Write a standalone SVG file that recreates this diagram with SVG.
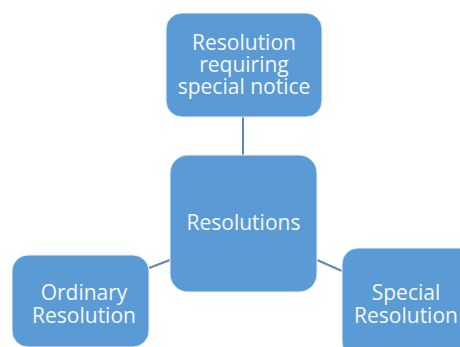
<svg xmlns="http://www.w3.org/2000/svg" width="460" height="347" viewBox="0 0 460 347">
<style>
.box{fill:#5B9BD5;stroke:#EAF1FA;stroke-width:1}
.t{font-family:"Open Sans","Noto Sans",sans-serif;font-size:21px;fill:#F4F7FB;text-anchor:middle}
.c{stroke:#5D88B3;stroke-width:2;fill:none}
</style>
<rect width="460" height="347" fill="#FFFFFF"/>
<g id="connectors">
<line class="c" x1="243" y1="117" x2="243" y2="155"/>
<line class="c" x1="149" y1="268" x2="170" y2="260"/>
<line class="c" x1="317" y1="260" x2="342" y2="271"/>
</g>
<g id="node-special-notice">
<rect class="box" x="166" y="13" width="156" height="104" rx="16"/>
<text class="t" x="244" y="50">Resolution</text>
<text class="t" x="244" y="72">requiring</text>
<text class="t" x="244" y="94">special notice</text>
</g>
<g id="node-resolutions">
<rect class="box" x="170" y="155" width="147" height="137" rx="18"/>
<text class="t" x="243.5" y="230">Resolutions</text>
</g>
<g id="node-ordinary">
<rect class="box" x="12" y="255" width="137" height="92" rx="16"/>
<text class="t" x="84" y="300">Ordinary</text>
<text class="t" x="84" y="323">Resolution</text>
</g>
<g id="node-special">
<rect class="box" x="342" y="248" width="140" height="110" rx="16"/>
<text class="t" x="406" y="300">Special</text>
<text class="t" x="406" y="323">Resolution</text>
</g>
</svg>
